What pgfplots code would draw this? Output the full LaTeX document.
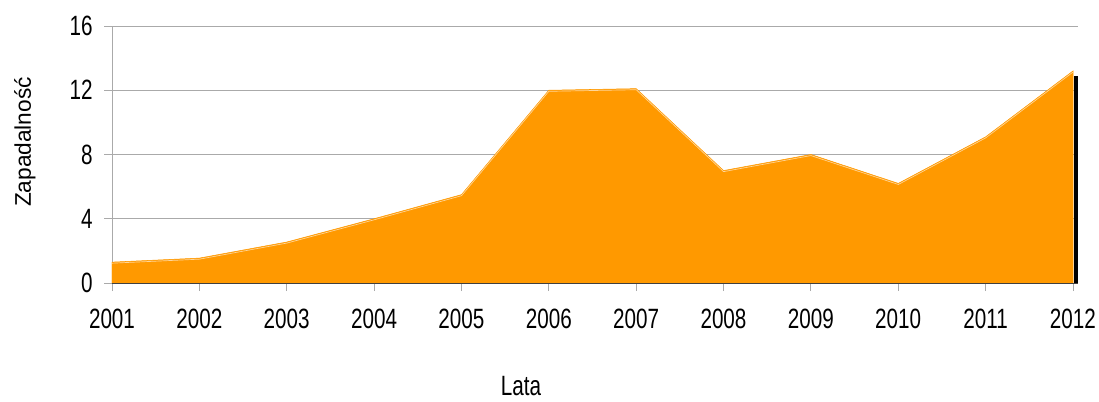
\documentclass[border=0pt]{standalone}
\usepackage{fontspec}
\setmainfont{Liberation Sans}
\usepackage{pgfplots}
\pgfplotsset{compat=1.18}
\definecolor{areaorange}{RGB}{255,153,0}
\definecolor{gridgray}{RGB}{170,170,170}
\begin{document}
\begin{tikzpicture}
\begin{axis}[
  scale only axis, width=724.5pt, height=192.75pt,
  xmin=2001, xmax=2012.057, ymin=0, ymax=16,
  xtick={2001,...,2012}, ytick={0,4,8,12,16},
  /pgf/number format/assume math mode=true,
  /pgf/number format/1000 sep={},
  axis lines=left, axis line style={-},
  x axis line style={draw=black!75},
  y axis line style={draw=gridgray},
  tick style={draw=gridgray, line width=0.6pt},
  tick align=outside, major tick length=6pt,
  ymajorgrids, grid style={draw=gridgray, line width=0.6pt},
  tick label style={font=\fontsize{15.5}{17}\selectfont, yscale=1.35},
  xticklabel style={yshift=-6.5pt},
  yticklabel style={xshift=-5pt},
  xlabel={Lata}, ylabel={Zapadalność},
  every axis x label/.style={at={(axis description cs:0.4234,-0.402)}, anchor=center, font=\fontsize{15.5}{17}\selectfont, yscale=1.35},
  every axis y label/.style={at={(axis description cs:-0.0901,0.5486)}, rotate=90, anchor=center, font=\fontsize{17}{19}\selectfont},
]
\addplot[fill=areaorange, draw=areaorange, line width=0.4pt] coordinates {
(2001,1.3) (2002,1.55) (2003,2.55) (2004,4.0) (2005,5.5) (2006,12.0) (2007,12.1) (2008,7.0) (2009,8.0) (2010,6.2) (2011,9.1) (2012,13.2)
} \closedcycle;
\addplot[white!60!areaorange, line width=0.5pt, yshift=-0.8pt, forget plot] coordinates {
(2001,1.3) (2002,1.55) (2003,2.55) (2004,4.0) (2005,5.5) (2006,12.0) (2007,12.1) (2008,7.0) (2009,8.0) (2010,6.2) (2011,9.1) (2012,13.2)
};
\addplot[black, line width=3pt, forget plot] coordinates {(2012.035,0) (2012.035,12.9)};
\addplot[black!75, line width=0.6pt, forget plot] coordinates {(2001,0) (2012.057,0)};
\end{axis}
\pgfresetboundingbox
\useasboundingbox (-84pt,-88.5pt) rectangle (740.25pt,212.25pt);
\end{tikzpicture}
\end{document}
